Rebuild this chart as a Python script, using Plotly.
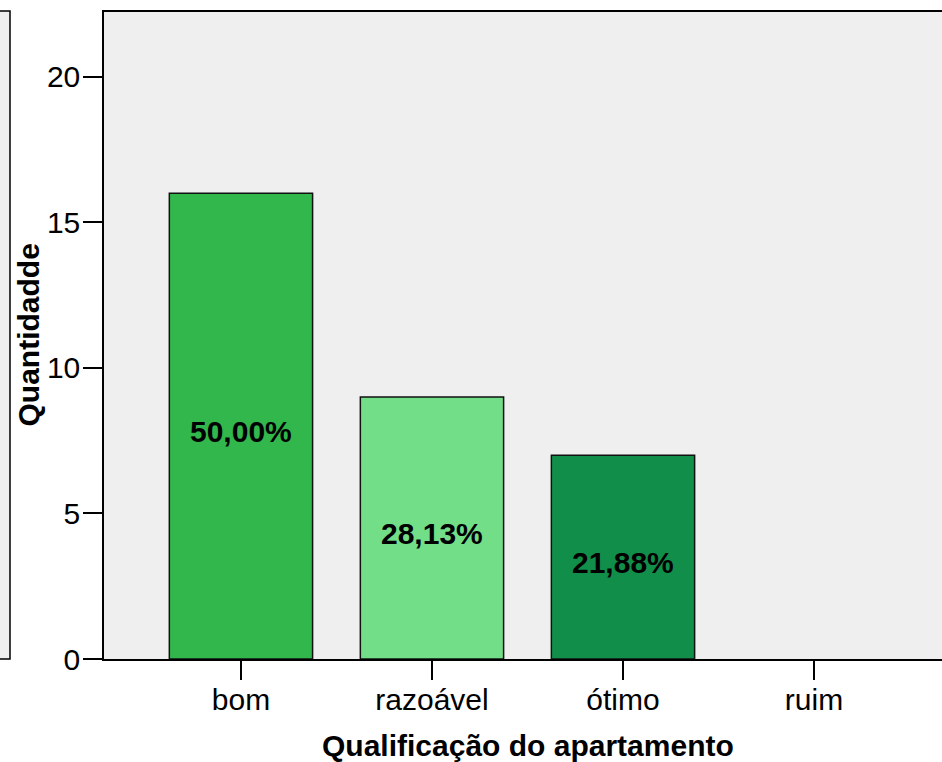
import plotly.graph_objects as go

categories = ["bom", "razoável", "ótimo", "ruim"]
counts = [16, 9, 7, 0]
pct_labels = ["50,00%", "28,13%", "21,88%", ""]
bar_colors = ["#31b74b", "#72de88", "#118f4a", "#118f4a"]
y_ticks = [0, 5, 10, 15, 20]

W, H = 942, 762
L, R, T, B = 104, 0, 12, 103
pw = W - L - R
ph = H - T - B
FS = 30

fig = go.Figure()
fig.add_trace(go.Bar(
    x=list(range(len(categories))),
    y=counts,
    width=0.75,
    marker=dict(color=bar_colors,
                line=dict(color="#111111", width=[1.5 if c > 0 else 0 for c in counts])),
    hoverinfo="skip",
))

annotations = []
for i, (c, lab) in enumerate(zip(counts, pct_labels)):
    if lab:
        annotations.append(dict(
            x=i, y=c / 2, xref="x", yref="y", text="<b>" + lab + "</b>",
            showarrow=False, yshift=-5, xanchor="center", yanchor="middle",
            font=dict(family="Liberation Sans, Arial", size=FS, color="black")))

annotations += [
    dict(text="<b>Qualificação do apartamento</b>", xref="paper", yref="paper",
         x=(528 - L) / pw, y=-(745 - 659) / ph, xanchor="center", yanchor="middle",
         showarrow=False, font=dict(size=FS, color="black")),
    dict(text="<b>Quantidadde</b>", xref="paper", yref="paper",
         x=(28 - L) / pw, y=0.5, xanchor="center", yanchor="middle", textangle=-90,
         showarrow=False, font=dict(size=FS, color="black")),
]

fig.update_layout(
    width=W, height=H,
    margin=dict(l=L, r=R, t=T, b=B, pad=0),
    paper_bgcolor="white",
    plot_bgcolor="#efefef",
    showlegend=False,
    font=dict(family="Liberation Sans, Arial", color="black"),
    xaxis=dict(
        range=[-0.717, 3.670],
        tickmode="array",
        tickvals=list(range(len(categories))),
        ticktext=categories,
        ticks="outside", ticklen=19, tickwidth=1.5, tickcolor="black",
        tickfont=dict(size=FS, color="black"),
        ticklabelstandoff=-6,
        showline=True, linecolor="black", linewidth=1.5, mirror=True,
        showgrid=False, zeroline=False,
    ),
    yaxis=dict(
        range=[0, 22.23],
        tickmode="array",
        tickvals=y_ticks,
        ticks="outside", ticklen=19, tickwidth=1.5, tickcolor="black",
        tickfont=dict(size=FS, color="black"),
        ticklabelstandoff=-3,
        showline=True, linecolor="black", linewidth=1.5, mirror=False,
        showgrid=False, zeroline=False,
    ),
    shapes=[
        dict(type="rect", xref="paper", yref="paper",
             x0=(-30 - L) / pw, x1=(10 - L) / pw,
             y0=0, y1=(659 - 11) / ph,
             fillcolor="#efefef", line=dict(color="black", width=1.5), layer="below"),
    ],
    annotations=annotations,
)

fig.write_html("out.html", config={"displayModeBar": False},
               post_script="document.body.style.margin='0px';document.body.style.overflow='hidden';")
